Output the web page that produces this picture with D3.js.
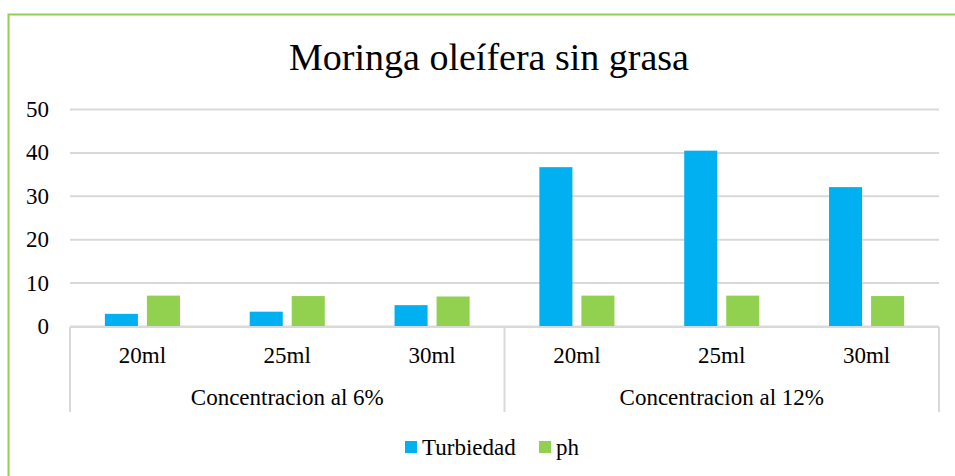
<!DOCTYPE html>
<meta charset="utf-8">
<style>
body { margin: 0; background: #fff; }
svg { font-family: 'Liberation Serif', 'Times New Roman', serif; }
.grid line { stroke: #d9d9d9; stroke-width: 2px; }
.grid path { display: none; }
.axis text { font-size: 23px; fill: #000; }
</style>
<body>
<script src="https://cdn.jsdelivr.net/npm/d3@7"></script>
<script>

// data
var groups = ["Concentracion al 6%", "Concentracion al 12%"];
var volumes = ["20ml", "25ml", "30ml"];
var turbiedad = [2.8, 3.3, 4.8, 36.6, 40.4, 32.0];
var ph = [7.0, 6.9, 6.8, 7.0, 7.0, 6.9];
var seriesNames = ["Turbiedad", "ph"];
var colors = ["#00b0f0", "#92d050"];
var yTicks = [0, 10, 20, 30, 40, 50];

var W = 955, H = 476;
var plotL = 70, plotR = 939, plotT = 109, plotB = 326;

var svg = d3.select("body").append("svg")
    .attr("width", W)
    .attr("height", H);

// green frame (left + top)
svg.append("path")
    .attr("d", "M8.5," + H + "V14.5H" + W)
    .attr("fill", "none")
    .attr("stroke", "#92d050")
    .attr("stroke-width", 2);

// title
svg.append("text")
    .attr("x", 489)
    .attr("y", 70)
    .attr("text-anchor", "middle")
    .style("font-size", "38px")
    .text("Moringa oleífera sin grasa");

// rows: one per group/volume
var cats = [];
groups.forEach(function(g) {
  volumes.forEach(function(v) { cats.push(g + "|" + v); });
});
var rows = cats.map(function(c, i) {
  return { key: c, vol: c.split("|")[1], values: [turbiedad[i], ph[i]] };
});

var x = d3.scaleBand().domain(cats).range([plotL, plotR]);
var x1 = d3.scaleBand().domain(seriesNames).range([0, x.bandwidth()]).paddingInner(0.214).paddingOuter(0.83);
var y = d3.scaleLinear().domain([0, 50]).range([plotB, plotT]);

// gridlines
svg.append("g")
    .attr("class", "grid")
    .attr("transform", "translate(" + plotL + ",0)")
    .call(d3.axisLeft(y).tickValues(yTicks).tickSize(-(plotR - plotL)).tickFormat(""));

// y labels
svg.append("g")
    .attr("class", "axis")
    .selectAll("text")
    .data(yTicks)
    .enter().append("text")
    .attr("x", 49)
    .attr("y", function(d) { return y(d); })
    .attr("dy", "0.35em")
    .attr("text-anchor", "end")
    .text(function(d) { return d; });

// bars
var cat = svg.append("g").selectAll("g")
    .data(rows)
    .enter().append("g")
    .attr("transform", function(d) { return "translate(" + x(d.key) + ",0)"; });

cat.selectAll("rect")
    .data(function(d) { return d.values.map(function(v, i) { return { s: seriesNames[i], v: v, c: colors[i] }; }); })
    .enter().append("rect")
    .attr("x", function(d) { return x1(d.s); })
    .attr("width", x1.bandwidth())
    .attr("y", function(d) { return y(d.v); })
    .attr("height", function(d) { return y(0) - y(d.v); })
    .attr("fill", function(d) { return d.c; });

// category axis box
var axisG = svg.append("g").attr("class", "axis");
axisG.append("line")
    .attr("x1", plotL).attr("x2", plotR)
    .attr("y1", plotB + 1).attr("y2", plotB + 1)
    .attr("stroke", "#d9d9d9").attr("stroke-width", 2);

var sepX = [plotL, x(cats[3]), plotR];
axisG.selectAll("line.sep")
    .data(sepX)
    .enter().append("line")
    .attr("class", "sep")
    .attr("x1", function(d) { return d; })
    .attr("x2", function(d) { return d; })
    .attr("y1", plotB + 1)
    .attr("y2", 412)
    .attr("stroke", "#d9d9d9").attr("stroke-width", 2);

axisG.selectAll("text.vol")
    .data(rows)
    .enter().append("text")
    .attr("class", "vol")
    .attr("x", function(d) { return x(d.key) + x.bandwidth() / 2; })
    .attr("y", 363)
    .attr("text-anchor", "middle")
    .text(function(d) { return d.vol; });

axisG.selectAll("text.grp")
    .data(groups)
    .enter().append("text")
    .attr("class", "grp")
    .attr("x", function(d, i) { return (sepX[i] + sepX[i + 1]) / 2; })
    .attr("y", 405)
    .attr("text-anchor", "middle")
    .text(function(d) { return d; });

// legend
var legendX = [405, 539];
var legend = svg.append("g").selectAll("g")
    .data(seriesNames)
    .enter().append("g")
    .attr("transform", function(d, i) { return "translate(" + legendX[i] + ",441)"; });

legend.append("rect")
    .attr("width", 12)
    .attr("height", 12)
    .attr("fill", function(d, i) { return colors[i]; });

legend.append("text")
    .attr("x", 17)
    .attr("y", 14)
    .style("font-size", "23px")
    .text(function(d) { return d; });

</script>
</body>
